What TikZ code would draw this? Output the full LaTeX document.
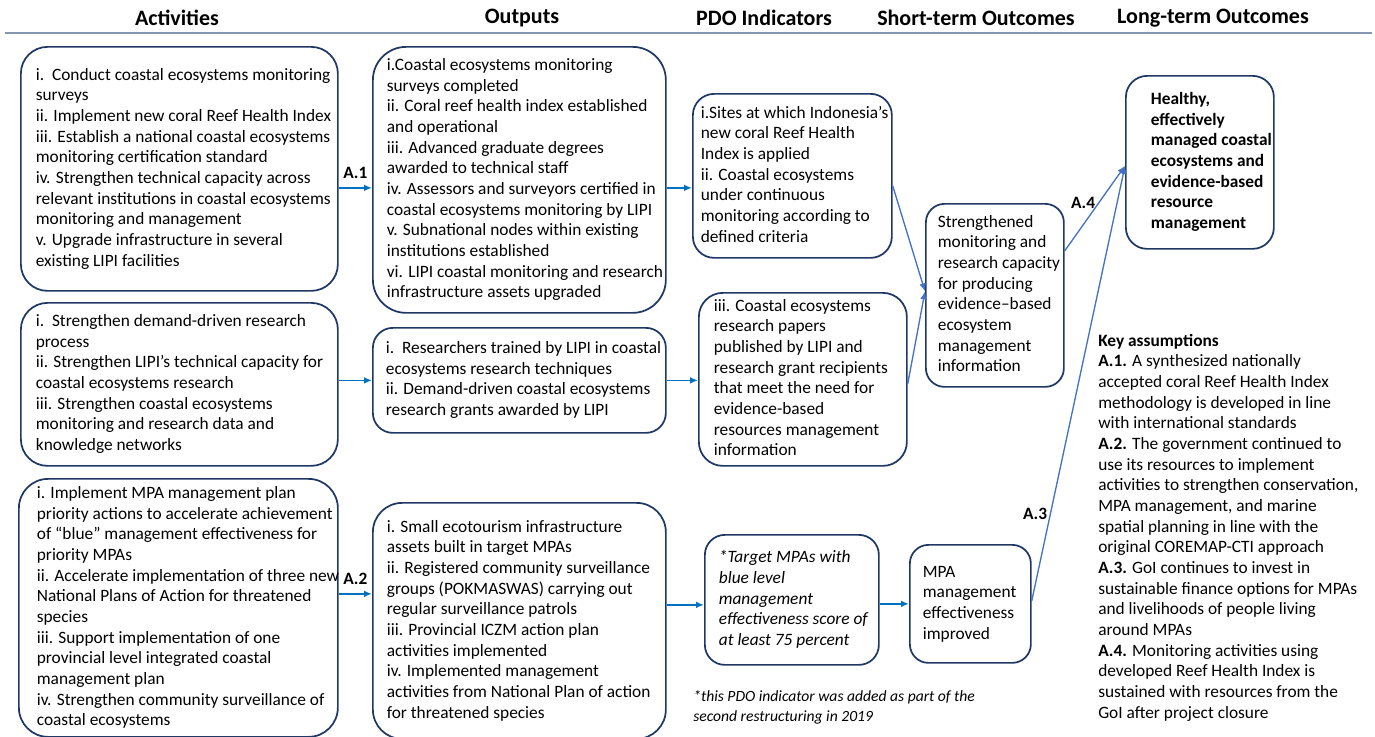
\documentclass[tikz,border=0pt]{standalone}
\usepackage{fontspec}
\setmainfont{Carlito}
\usepackage{tikz}
\usetikzlibrary{arrows.meta, positioning}
\tikzset{>/.tip={Latex[length=6pt,width=5pt]}}
\definecolor{boxnavy}{RGB}{31,56,100}
\definecolor{arrowblue}{RGB}{0,112,192}
\definecolor{linkblue}{RGB}{68,114,196}
\definecolor{rulegray}{RGB}{132,150,176}
\newcommand{\bodyfont}{\fontsize{13pt}{15.5pt}\selectfont}
\newcommand{\notefont}{\fontsize{11.7pt}{15pt}\selectfont}
\newcommand{\boxlines}[2]{\makebox[#1][l]{\begin{tabular}{@{}l@{}}#2\end{tabular}}}
\tikzset{box/.style={draw=boxnavy, line width=1.3pt, rounded corners=15pt, anchor=north west, inner ysep=0pt, font=\bodyfont}}
\tikzset{head/.style={font=\fontsize{16.5pt}{19pt}\selectfont\bfseries}}
\tikzset{lab/.style={font=\bodyfont\bfseries, inner sep=2pt}}
\tikzset{abar/.style={draw=arrowblue, line width=1.3pt}}
\tikzset{link/.style={draw=linkblue, line width=1pt}}

\begin{document}
\begin{tikzpicture}[x=0.75pt, y=-0.75pt]
\useasboundingbox (0,0) rectangle (1375,736);
% column heads
\node[head] (hact) at (177,18) {Activities};
\node[head] (hout) at (522,18) {Outputs};
\node[head] (hpdo) at (764,18) {PDO Indicators};
\node[head] (hshort) at (976,18) {Short-term Outcomes};
\node[head] (hlong) at (1213,18) {Long-term Outcomes};
\draw[rulegray, line width=2pt] (5,33) -- (1372,33);

% activities
\node[box, inner xsep=11.25pt, minimum height=183pt, rounded corners=20pt] (a1) at (20,46) {\boxlines{215.25pt}{%
i.\ \ Conduct coastal ecosystems monitoring\\
surveys\\
ii. Implement new coral Reef Health Index\\
iii. Establish a national coastal ecosystems\\
monitoring certification standard\\
iv. Strengthen technical capacity across\\
relevant institutions in coastal ecosystems\\
monitoring and management\\
v. Upgrade infrastructure in several\\
existing LIPI facilities}};
\node[box, inner xsep=11.25pt, minimum height=122.25pt, rounded corners=20pt] (a2) at (20,302) {\boxlines{215.25pt}{%
i.\ \ Strengthen demand-driven research\\
process\\
ii. Strengthen LIPI’s technical capacity for\\
coastal ecosystems research\\
iii. Strengthen coastal ecosystems\\
monitoring and research data and\\
knowledge networks}};
\node[box, inner xsep=13.5pt, minimum height=193.5pt, rounded corners=22pt] (a3) at (18,478) {\boxlines{212.25pt}{%
i. Implement MPA management plan\\
priority actions to accelerate achievement\\
of “blue” management effectiveness for\\
priority MPAs\\
ii. Accelerate implementation of three new\\
National Plans of Action for threatened\\
species\\
iii. Support implementation of one\\
provincial level integrated coastal\\
management plan\\
iv. Strengthen community surveillance of\\
coastal ecosystems}};

% outputs
\node[box, inner xsep=10.5pt, minimum height=199.5pt, rounded corners=25pt] (o1) at (372,46) {\boxlines{198.75pt}{%
i.Coastal ecosystems monitoring\\
surveys completed\\
ii. Coral reef health index established\\
and operational\\
iii. Advanced graduate degrees\\
awarded to technical staff\\
iv. Assessors and surveyors certified in\\
coastal ecosystems monitoring by LIPI\\
v. Subnational nodes within existing\\
institutions established\\
vi. LIPI coastal monitoring and research\\
infrastructure assets upgraded}};
\node[box, inner xsep=9.75pt, minimum height=78.75pt] (o2) at (372,327) {\boxlines{200.25pt}{%
i.\ \ Researchers trained by LIPI in coastal\\
ecosystems research techniques\\
ii. Demand-driven coastal ecosystems\\
research grants awarded by LIPI}};
\node[box, inner xsep=10.5pt, minimum height=177pt, rounded corners=22pt] (o3) at (372,502) {\boxlines{198.75pt}{%
i. Small ecotourism infrastructure\\
assets built in target MPAs\\
ii. Registered community surveillance\\
groups (POKMASWAS) carrying out\\
regular surveillance patrols\\
iii. Provincial ICZM action plan\\
activities implemented\\
iv. Implemented management\\
activities from National Plan of action\\
for threatened species}};

% PDO indicators
\node[box, inner xsep=6pt, minimum height=123pt, rounded corners=16pt] (p1) at (692,93) {\boxlines{137.25pt}{%
i.Sites at which Indonesia’s\\
new coral Reef Health\\
Index is applied\\
ii. Coastal ecosystems\\
under continuous\\
monitoring according to\\
defined criteria}};
\node[box, inner xsep=11.25pt, minimum height=129.75pt, rounded corners=18pt] (p2) at (698,292) {\boxlines{133.5pt}{%
iii. Coastal ecosystems\\
research papers\\
published by LIPI and\\
research grant recipients\\
that meet the need for\\
evidence-based\\
resources management\\
information}};
\node[box, inner xsep=10.5pt, minimum height=97.5pt] (p3) at (704,534) {\boxlines{109.5pt}{\itshape
*Target MPAs with\\
\itshape blue level\\
\itshape management\\
\itshape effectiveness score of\\
\itshape at least 75 percent}};
\node[anchor=west, align=left, inner sep=0pt, font=\notefont\itshape] (note) at (693,707) {*this PDO indicator was added as part of the\\second restructuring in 2019};

% outcomes
\node[box, inner xsep=9pt, minimum height=137.25pt, rounded corners=14pt] (s1) at (925,203) {\boxlines{85.5pt}{%
Strengthened\\
monitoring and\\
research capacity\\
for producing\\
evidence--based\\
ecosystem\\
management\\
information}};
\node[box, inner xsep=9.75pt, minimum height=88.5pt, rounded corners=14pt] (s2) at (909,544) {\boxlines{71.25pt}{%
MPA\\
management\\
effectiveness\\
improved}};
\node[box, inner xsep=18.75pt, minimum height=129.75pt, rounded corners=16pt, font=\bodyfont\bfseries] (l1) at (1125,75) {\boxlines{73.5pt}{%
Healthy,\\
effectively\\
managed coastal\\
ecosystems and\\
evidence-based\\
resource\\
management}};

\node[anchor=west, align=left, inner sep=0pt, font=\bodyfont] (keys) at (1098,527.5) {\textbf{Key assumptions}\\
\textbf{A.1.} A synthesized nationally\\
accepted coral Reef Health Index\\
methodology is developed in line\\
with international standards\\
\textbf{A.2.} The government continued to\\
use its resources to implement\\
activities to strengthen conservation,\\
MPA management, and marine\\
spatial planning in line with the\\
original COREMAP-CTI approach\\
\textbf{A.3.} GoI continues to invest in\\
sustainable finance options for MPAs\\
and livelihoods of people living\\
around MPAs\\
\textbf{A.4.} Monitoring activities using\\
developed Reef Health Index is\\
sustained with resources from the\\
GoI after project closure};

% connectors
\coordinate (a1out) at ([yshift=-14.25pt]a1.east);
\coordinate (a3out) at ([yshift=10.5pt]a3.east);
\coordinate (o1out) at ([yshift=-6pt]o1.east);
\coordinate (p3in) at ([yshift=-3.75pt]p3.west);
\coordinate (s1in) at ([yshift=3pt]s1.west);
\coordinate (l1in) at ([yshift=-2.6pt]l1.west);
\draw[->, abar] (a1out) -- (a1out -| o1.west) node[lab, midway, above=4.5pt] {A.1};
\draw[->, abar] (o2.west -| a2.east) -- (o2.west);
\draw[->, abar] (a3out) -- (a3out -| o3.west) node[lab, midway, above=4.5pt] {A.2};
\draw[->, abar] (o1out) -- (o1out -| p1.west);
\draw[->, abar] (o2.east) -- (o2.east -| p2.west);
\draw[->, abar] (p3in -| o3.east) -- (p3in);
\draw[->, abar] (s2.west -| p3.east) -- (s2.west);
\draw[->, link] ([yshift=-7.5pt]p1.east) -- (s1in);
\draw[->, link] ([yshift=-3.4pt]p2.east) -- (s1in);
\draw[->, link] ([yshift=33.4pt]s1.east) -- (l1in) node[lab, pos=0.56, left] {A.4};
\draw[->, link] ([yshift=2.25pt]s2.east) -- (l1in) node[lab, pos=0.2, left] {A.3};
\end{tikzpicture}
\end{document}
